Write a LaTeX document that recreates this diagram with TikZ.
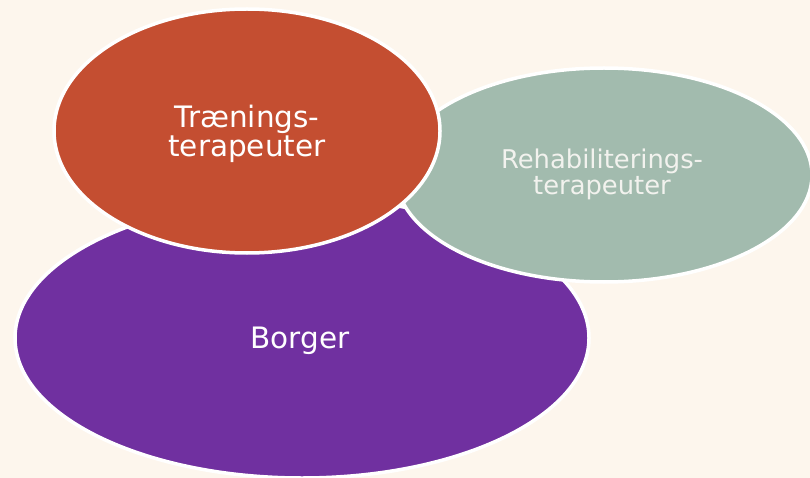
\documentclass[tikz,border=0pt]{standalone}
\usepackage{fontspec}
\setmainfont{DejaVu Sans}
\usetikzlibrary{shapes.geometric}
\definecolor{bg}{HTML}{FDF6ED}
\definecolor{borgerc}{HTML}{7030A0}
\definecolor{traenc}{HTML}{C44E31}
\definecolor{rehabc}{HTML}{A2BBAE}
\definecolor{rehabtxt}{HTML}{F2F2EE}
\begin{document}
\begin{tikzpicture}[x=1pt,y=-1pt,
  blob/.style={ellipse, draw=white, line width=3.5pt, inner sep=0pt, outer sep=0pt},
  lbl/.style={text=white, align=center, inner sep=0pt},
  bigfont/.style={font=\fontsize{29.5}{29}\selectfont},
  smallfont/.style={font=\fontsize{25.8}{26}\selectfont}]
\useasboundingbox (0,0) rectangle (810,478);
\clip (0,0) rectangle (810,478);
\fill[bg] (0,0) rectangle (810,478);
\node[blob, fill=borgerc, minimum width=574pt, minimum height=280pt] (borger) at (302,338) {};
\node[blob, fill=rehabc, minimum width=416pt, minimum height=214pt] (rehab) at (604,175) {};
\node[blob, fill=traenc, minimum width=386pt, minimum height=244pt] (traen) at (247,131) {};
\node[lbl, bigfont] (borgertxt) at (300,340.5) {Borger};
\node[lbl, bigfont] (traentxt) at (247,134) {Trænings-\\terapeuter};
\node[lbl, smallfont, text=rehabtxt] (rehabtxt) at (602,174.5) {Rehabiliterings-\\terapeuter};
\end{tikzpicture}
\end{document}
